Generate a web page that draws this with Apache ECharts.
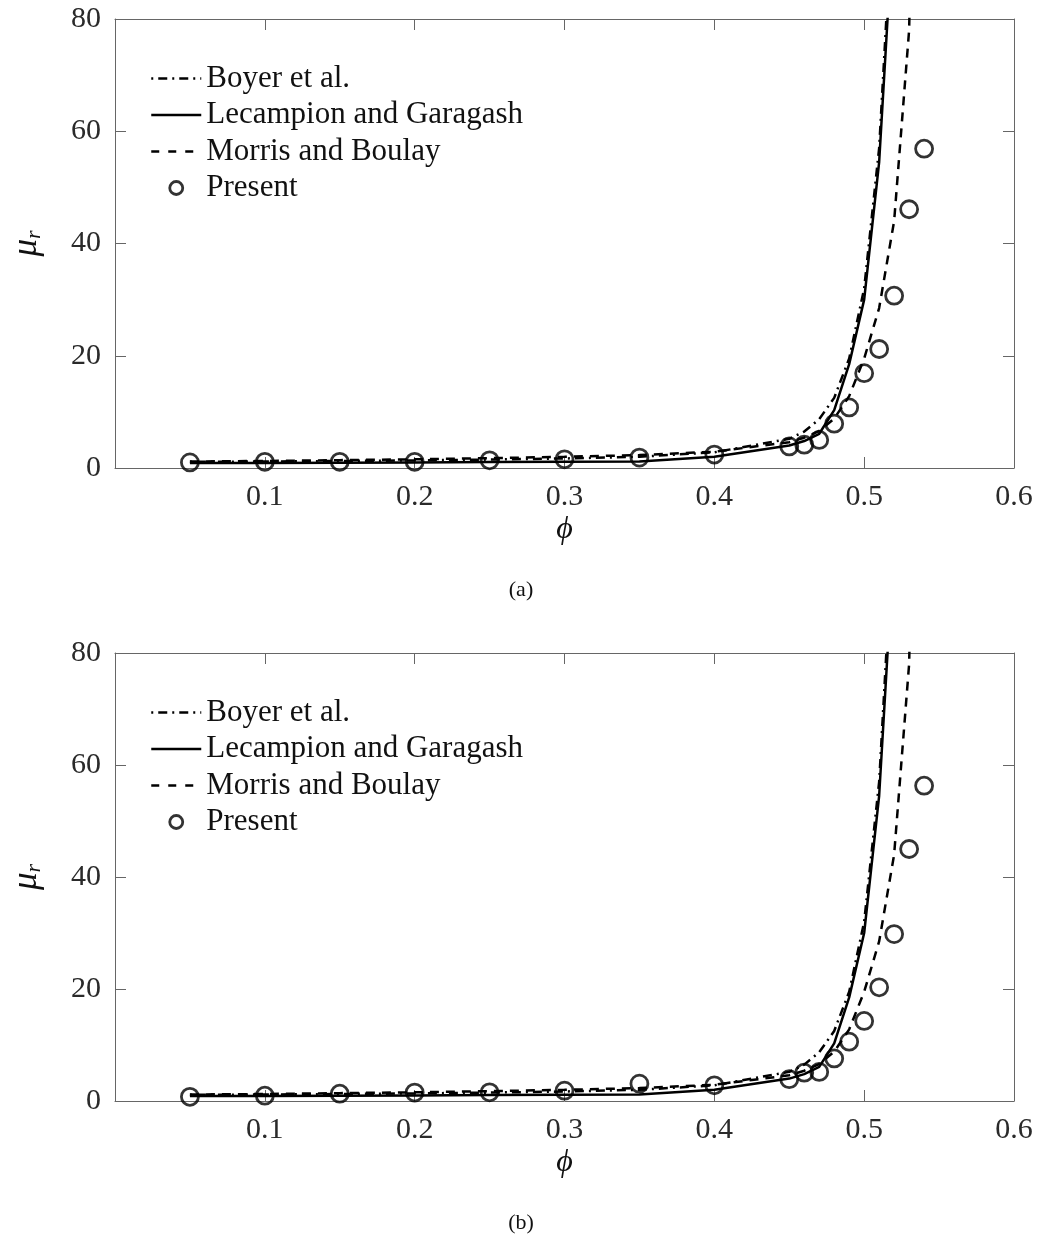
<!DOCTYPE html>
<html>
<head>
<meta charset="utf-8">
<script src="https://cdn.jsdelivr.net/npm/echarts@6/dist/echarts.min.js"></script>
<style>
html,body{margin:0;padding:0;background:#fff;}
#chart{width:1038px;height:1238px;}
</style>
</head>
<body>
<div id="chart"></div>
<script>
// volume fraction samples
const xs = [0.05,0.10,0.15,0.20,0.25,0.30,0.35,0.40,0.45,0.46,0.47,0.48,0.49,0.50,0.51,0.52,0.53,0.54];
// model curves (same in both panels)
const boyer     = [1.1,1.15,1.25,1.35,1.5,1.7,2.0,2.8,5.2,6.5,8.7,12.5,19.5,32,57,105];
const lecampion = [0.9,0.9,0.95,1.0,1.05,1.1,1.15,2.0,4.0,4.8,6.1,10.3,18.5,30,54.5,100];
const morris    = [1.15,1.25,1.4,1.55,1.75,2.0,2.3,2.9,4.6,5.4,6.6,8.8,12.8,19.5,28.5,44,78,200];
// present results
const presentA  = [1.0,1.1,1.1,1.1,1.37,1.55,1.85,2.4,3.85,4.15,5.0,7.9,10.8,16.9,21.2,30.7,46.1,56.9];
const presentB  = [0.75,0.95,1.3,1.5,1.55,1.85,3.1,2.8,3.9,5.05,5.2,7.6,10.6,14.3,20.3,29.8,45.0,56.3];
// axes
const xTicks = [0.1,0.2,0.3,0.4,0.5,0.6];
const yTicks = [0,20,40,60,80];
const seriesNames = ['Boyer et al.','Lecampion and Garagash','Morris and Boulay','Present'];
const captions = ['(a)','(b)'];

const pairs = (ys) => ys.map((y,i)=>[xs[i], y]);
const FONT = 'Liberation Serif, Times New Roman, serif';
const AX = '#666';

const grids = [
  {left:115, top:19, width:899, height:449},
  {left:115, top:653, width:899, height:448}
];
const presents = [presentA, presentB];

const xAxis = [], yAxis = [], series = [], legend = [], graphic = [];
grids.forEach((g, i) => {
  const tickBase = {show:true, inside:true, length:11, lineStyle:{color:AX, width:1}};
  xAxis.push({
    gridIndex:i, type:'value', position:'bottom',
    min:0, max:xTicks[xTicks.length-1], interval:xTicks[1]-xTicks[0],
    axisLine:{show:true, onZero:false, lineStyle:{color:AX, width:1}},
    axisTick:tickBase, splitLine:{show:false},
    axisLabel:{margin:14, fontFamily:FONT, fontSize:30, color:'#2a2a2a',
      formatter:(v)=> xTicks.some(t=>Math.abs(t-v)<1e-9) ? String(+v.toFixed(1)) : ''},
    name:'ϕ', nameLocation:'middle', nameGap:46,
    nameTextStyle:{fontFamily:FONT, fontSize:32, fontStyle:'italic', color:'#111'}
  });
  xAxis.push({
    gridIndex:i, type:'value', position:'top',
    min:0, max:xTicks[xTicks.length-1], interval:xTicks[1]-xTicks[0],
    axisLine:{show:true, onZero:false, lineStyle:{color:AX, width:1}},
    axisTick:tickBase, axisLabel:{show:false}, splitLine:{show:false}
  });
  yAxis.push({
    gridIndex:i, type:'value', position:'left',
    min:yTicks[0], max:yTicks[yTicks.length-1], interval:yTicks[1]-yTicks[0],
    axisLine:{show:true, onZero:false, lineStyle:{color:AX, width:1}},
    axisTick:tickBase, splitLine:{show:false},
    axisLabel:{margin:14, fontFamily:FONT, fontSize:30, color:'#2a2a2a'},
    name:'{mu|μ}{r|r}', nameLocation:'middle', nameGap:70, nameRotate:90,
    nameTextStyle:{
      rich:{
        mu:{fontFamily:FONT, fontSize:35, fontStyle:'italic', color:'#111', lineHeight:36},
        r:{fontFamily:FONT, fontSize:22, fontStyle:'italic', color:'#111', lineHeight:20, verticalAlign:'bottom', padding:[10,0,0,0]}
      }
    }
  });
  yAxis.push({
    gridIndex:i, type:'value', position:'right',
    min:yTicks[0], max:yTicks[yTicks.length-1], interval:yTicks[1]-yTicks[0],
    axisLine:{show:true, onZero:false, lineStyle:{color:AX, width:1}},
    axisTick:tickBase, axisLabel:{show:false}, splitLine:{show:false}
  });
  const xi = 2*i, yi = 2*i;
  series.push({
    name:seriesNames[0], type:'line', xAxisIndex:xi, yAxisIndex:yi,
    data:pairs(boyer), showSymbol:false, symbol:'none', clip:true, z:2,
    itemStyle:{color:'#000'},
    lineStyle:{color:'#000', width:2.5, type:[2,5,9,5]}
  });
  series.push({
    name:seriesNames[1], type:'line', xAxisIndex:xi, yAxisIndex:yi,
    data:pairs(lecampion), showSymbol:false, symbol:'none', clip:true, z:3,
    itemStyle:{color:'#000'},
    lineStyle:{color:'#000', width:2.5, type:'solid'}
  });
  series.push({
    name:seriesNames[2], type:'line', xAxisIndex:xi, yAxisIndex:yi,
    data:pairs(morris), showSymbol:false, symbol:'none', clip:true, z:2,
    itemStyle:{color:'#000'},
    lineStyle:{color:'#000', width:2.5, type:[9,7]}
  });
  series.push({
    name:seriesNames[3], type:'scatter', xAxisIndex:xi, yAxisIndex:yi,
    data:pairs(presents[i]), symbol:'circle', symbolSize:17, z:5,
    itemStyle:{color:'rgba(255,255,255,0)', borderColor:'#000', borderWidth:2.8}
  });
  legend.push({
    orient:'vertical', left:145, top:g.top+39,
    itemWidth:50, itemHeight:13, itemGap:5.5,
    data:[
      {name:seriesNames[0], itemStyle:{opacity:0}, lineStyle:{width:2.5}},
      {name:seriesNames[1], itemStyle:{opacity:0}, lineStyle:{width:2.5}},
      {name:seriesNames[2], itemStyle:{opacity:0}, lineStyle:{width:2.5, type:[8,9]}},
      {name:seriesNames[3], itemStyle:{borderWidth:2.8}}
    ],
    textStyle:{fontFamily:FONT, fontSize:31, color:'#111', lineHeight:31},
    selectedMode:false
  });
  graphic.push({
    type:'text', x:521, y: g.top + g.height + 122,
    style:{text:captions[i], font:'22px ' + FONT, fill:'#111', align:'center', verticalAlign:'middle'}
  });
});

const chart = echarts.init(document.getElementById('chart'), null, {renderer:'canvas'});
chart.setOption({
  animation:false,
  backgroundColor:'#fff',
  grid:grids,
  xAxis, yAxis, series, legend, graphic
});
</script>
</body>
</html>
